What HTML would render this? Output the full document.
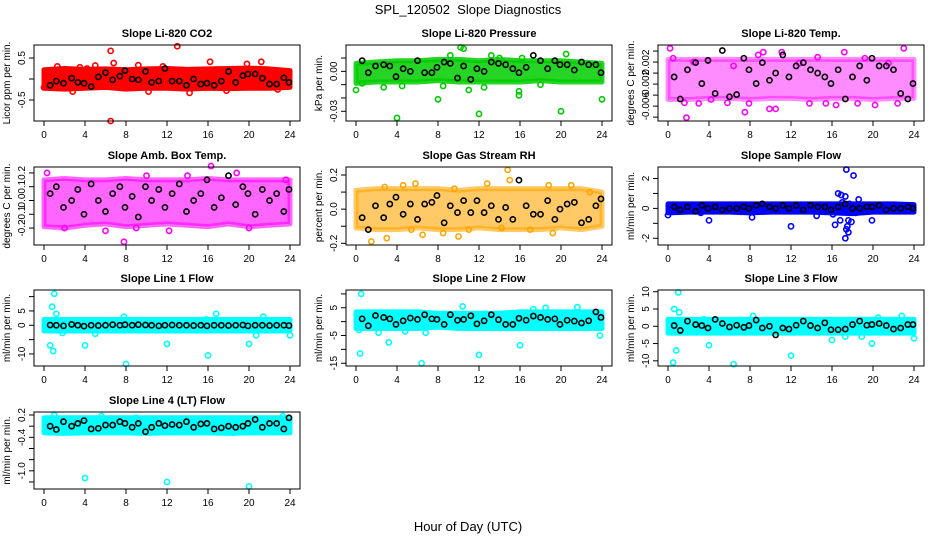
<!DOCTYPE html>
<html><head><meta charset="utf-8"><style>
body{margin:0;background:#fff}
svg{display:block;font-family:"Liberation Sans",sans-serif}
</style></head><body>
<svg id="c" width="936" height="540" viewBox="0 0 936 540">
<text x="468" y="14" text-anchor="middle" font-size="13">SPL_120502&#160; Slope Diagnostics</text>
<text x="468" y="531" text-anchor="middle" font-size="13">Hour of Day (UTC)</text>
</svg>
<script>
const xTicks=[0,4,8,12,16,20,24];
const bandHours=[0,2,4,6,8,10,12,14,16,18,20,22,24];
const blackX=[0.6,1.2,1.9,2.7,3.3,3.9,4.6,5.3,6.0,6.7,7.4,7.9,8.6,9.2,9.9,10.5,11.2,11.8,12.5,13.2,13.9,14.6,15.3,15.9,16.6,17.3,18.0,18.7,19.4,19.9,20.6,21.3,22.0,22.7,23.4,23.9];
const panelTitles=["Slope Li-820 CO2","Slope Li-820 Pressure","Slope Li-820 Temp.","Slope Amb. Box Temp.","Slope Gas Stream RH","Slope Sample Flow","Slope Line 1 Flow","Slope Line 2 Flow","Slope Line 3 Flow","Slope Line 4 (LT) Flow"];
const yTitles=["Licor ppm per min.","kPa per min.","degrees C per min.","degrees C per min.","percent per min.","ml/min per min.","ml/min per min.","ml/min per min.","ml/min per min.","ml/min per min."];
const yLims=[[-1.0,0.81],[-0.0373,0.0198],[-0.0087,0.0051],[-0.323,0.243],[-0.21,0.247],[-2.45,2.77],[-14.2,12.3],[-16,11.4],[-11.5,10.5],[-1.126,0.254]];
const yTickVals=[[0.5,0,-0.5],[0.01,0,-0.01,-0.02,-0.03],[0.004,0.002,0,-0.002,-0.004,-0.006,-0.008],[0.2,0.1,0,-0.1,-0.2],[0.2,0.1,0,-0.1,-0.2],[2,1,0,-1,-2],[10,5,0,-5,-10],[10,5,0,-5,-10,-15],[10,5,0,-5,-10],[0.2,0,-0.2,-0.4,-0.6,-0.8,-1.0]];
const yTickLabels=[["0.5","","-0.5"],["","0.00","","","-0.03"],["","0.002","","-0.002","","-0.006",""],["0.2","0.1","0.0","-0.1","-0.2"],["0.2","","0.0","","-0.2"],["2","","0","","-2"],["","5","0","","-10"],["","5","","-5","","-15"],["10","5","0","-5","-10"],["0.2","","-0.4","","","-1.0",""]];
const colors=["#ff0000","#00cc00","#ff00ff","#ff00ff","#ffa500","#0000ff","#00ffff","#00ffff","#00ffff","#00ffff"];
const bandOpacity=[1,0.85,0.45,0.6,0.6,1,1,1,1,1];
const bandLo=[
[-0.22,-0.24,-0.22,-0.2,-0.24,-0.22,-0.22,-0.24,-0.22,-0.23,-0.22,-0.22,-0.2],
[-0.009,-0.008,-0.008,-0.008,-0.007,-0.008,-0.008,-0.008,-0.008,-0.007,-0.008,-0.008,-0.008],
[-0.0048,-0.0048,-0.0046,-0.0046,-0.0048,-0.0046,-0.0046,-0.0048,-0.0046,-0.0046,-0.0048,-0.0046,-0.0046],
[-0.19,-0.2,-0.18,-0.17,-0.19,-0.18,-0.17,-0.18,-0.19,-0.17,-0.19,-0.18,-0.17],
[-0.11,-0.12,-0.12,-0.11,-0.12,-0.12,-0.11,-0.12,-0.12,-0.12,-0.11,-0.12,-0.1],
[-0.3,-0.25,-0.25,-0.25,-0.3,-0.25,-0.25,-0.25,-0.3,-0.35,-0.25,-0.25,-0.25],
[-2,-2,-2,-2,-2,-2,-2,-2,-2,-2,-2,-2,-2],
[-2.5,-2.5,-2.5,-2.5,-2,-2.5,-2.5,-2.5,-2.5,-2.5,-2.5,-2.5,-2.5],
[-2,-2,-2,-2,-2,-2,-2,-2,-2,-2,-2,-2,-2],
[-0.12,-0.13,-0.12,-0.12,-0.12,-0.13,-0.12,-0.12,-0.12,-0.13,-0.12,-0.12,-0.12]];
const bandHi=[
[0.22,0.25,0.23,0.24,0.22,0.24,0.25,0.23,0.24,0.25,0.26,0.24,0.2],
[0.006,0.007,0.008,0.008,0.009,0.009,0.008,0.009,0.008,0.008,0.008,0.007,0.006],
[0.0025,0.0025,0.0025,0.0025,0.0025,0.0025,0.0025,0.0025,0.0025,0.0025,0.0025,0.0025,0.0025],
[0.15,0.16,0.15,0.15,0.16,0.15,0.15,0.15,0.16,0.15,0.15,0.15,0.15],
[0.11,0.12,0.12,0.12,0.12,0.11,0.12,0.12,0.12,0.12,0.12,0.12,0.1],
[0.3,0.3,0.3,0.3,0.3,0.3,0.3,0.3,0.3,0.3,0.3,0.3,0.25],
[2,2,2,2,2,2,2,2,2,2,2,2,2],
[3.5,3.5,3.5,3.5,3,3,3,3,3.5,3.5,3.5,3.5,3.5],
[2,2,2,2,2,2,2,2,2,2,2,2,2],
[0.15,0.15,0.15,0.15,0.15,0.15,0.15,0.15,0.15,0.15,0.15,0.15,0.15]];
const blackY=[
[-0.15,-0.05,-0.1,0.02,-0.08,-0.1,-0.18,0.05,0.15,-0.02,0.07,0.2,0,-0.02,0.18,-0.08,-0.05,0.25,-0.05,-0.05,-0.15,0,-0.12,-0.1,-0.15,-0.05,0.18,-0.08,0.08,0.12,0.12,0.02,-0.12,-0.12,0.03,-0.08],
[0.008,-0.001,0.004,0.005,0.004,-0.004,0.002,0.0,0.008,-0.001,-0.001,0.003,0.007,0.006,-0.005,0.004,-0.006,0.002,0.0,0.007,0.006,0.005,0.002,-0.001,0.003,0.012,0.008,0.002,0.008,0.005,0.005,0.001,0.007,0.005,0.005,-0.001],
[-0.0007,-0.0047,0.0006,0.0019,-0.0019,0.0023,-0.0037,0.0041,-0.0043,-0.0039,0.0027,0.0006,-0.0019,0.0019,-0.0013,0.0000,0.0033,-0.0007,0.0013,0.0019,0.0006,0.0000,-0.0007,-0.0019,0.0006,-0.0047,-0.0007,0.0013,-0.0013,0.0027,0.0013,0.0013,0.0006,-0.0037,-0.0047,-0.0019],
[0.05,0.1,-0.05,0.0,0.08,-0.1,0.12,0.0,-0.08,0.05,0.1,-0.05,0.03,-0.12,0.1,0.0,0.08,-0.05,0.05,0.12,-0.08,0.0,0.05,0.15,-0.05,0.02,0.18,-0.03,0.1,0.05,-0.1,0.08,0.0,0.05,-0.08,0.08],
[-0.05,-0.12,0.02,-0.05,0.03,0.07,-0.03,0.03,-0.06,0.03,0.04,0.08,-0.08,0.02,-0.02,0.05,-0.02,0.05,-0.02,0.02,-0.06,0.01,-0.06,0.17,0.02,-0.03,-0.03,0.05,-0.06,0.0,0.03,0.04,-0.08,-0.06,0.02,0.06],
[0.1,-0.1,0.1,-0.2,0.2,0.0,0.1,-0.1,0.0,0.0,0.1,0.0,0.2,0.3,0.1,0.0,0.2,0.0,0.2,-0.1,0.2,0.1,0.1,-0.1,0.1,0.3,0.0,0.0,0.1,0.1,0.2,-0.1,0.0,0.0,0.1,0.0],
[0.1,0,-0.2,0.3,0,-0.3,0,-0.1,0,0.2,0,0.2,0,0.2,0.1,0,-0.2,0,0.1,0,0,-0.1,0,-0.2,0,0,-0.1,0,0.1,-0.2,0,0,-0.1,0,0,-0.1],
[1,-1.5,2.2,1.5,1,-1,0.3,1.3,0.8,2.5,1,0.8,-1,2.5,0.5,0.8,2.1,-0.8,0.3,2.5,0.7,-1,-1,1.2,0.5,2,1.5,0.8,1,-1,0.5,0.2,-0.5,0.3,3.5,1.5],
[0.2,-1.2,1.5,0.5,0.2,-0.5,2,0.8,-0.2,0.3,-0.3,0.2,1.8,-0.5,0,-2.5,-0.5,-0.8,0.3,1.5,0.2,-0.5,1,-1,-1,-0.8,0.5,1.5,0.3,0.5,0.8,0.2,-0.8,-0.5,0.5,0.5],
[0,-0.06,0.08,0,0.05,0.1,-0.05,-0.04,0.02,0.02,0.08,0.05,-0.02,0.05,-0.1,-0.02,0.05,0.01,0.03,0.02,0.08,-0.02,0.04,0.05,-0.05,-0.03,0.0,-0.02,0.0,0.05,0.12,-0.02,0.05,0.05,-0.05,0.15]];
const outliers=[
[[6.5,0.67],[13,0.78],[6.5,-1.0],[6.8,0.38],[0,-0.2],[1.3,0.3],[5.0,0.32],[2.8,-0.3],[9.2,0.33],[10.2,-0.3],[14.2,-0.33],[16.2,0.41],[19.8,0.36],[21.2,0.41],[17.8,-0.28],[4.2,0.25],[22.8,-0.25],[3.5,0.28],[11.6,0.3]],
[[4,-0.035],[12,-0.032],[20,-0.030],[8,-0.021],[24,-0.021],[0,-0.014],[15.9,-0.018],[2.7,-0.012],[10.5,0.017],[10.2,0.018],[9.2,0.012],[13.2,0.012],[20.5,0.013],[11,-0.014],[18,-0.010],[8.5,-0.011],[14,0.01],[4.5,-0.011],[16.2,0.01],[0.6,-0.009],[15.9,-0.015],[12.5,-0.012]],
[[0.2,0.0045],[1.8,-0.0081],[23,0.0045],[7.5,-0.0071],[10.5,-0.0065],[9.9,-0.0065],[0.5,0.0027],[11.1,0.0038],[13.8,-0.0055],[15.4,-0.0055],[17.2,0.0038],[19.2,0.0027],[1.6,-0.0054],[8.8,0.0033],[21.5,0.0018],[5.8,-0.0054],[2.5,0.002],[6.4,0.0013],[12.8,0.0018],[18.5,-0.0055],[3.0,-0.0055],[4.2,-0.0048],[7.9,-0.0055],[14.6,0.0029],[20.2,-0.0058],[22.4,-0.0055],[9.3,0.0038],[16.4,-0.0058]],
[[7.8,-0.3],[16.3,0.25],[12.2,-0.22],[0.3,0.2],[18.8,0.2],[2,-0.2],[23.6,0.15],[20,-0.2],[6,-0.22],[10,0.18],[14,0.18],[9,-0.2]],
[[1.5,-0.19],[3,-0.17],[14.8,0.23],[15,0.17],[10,-0.16],[14.2,-0.11],[6.5,-0.15],[4.6,0.14],[5.8,0.15],[12.8,0.15],[18.8,0.14],[21,0.14],[19.2,-0.14],[8.5,-0.14],[11,-0.12],[22.8,0.1],[2.8,0.13],[9.6,0.12],[5.4,-0.12],[17,-0.12]],
[[17.4,2.6],[18.1,2.2],[16.6,1.0],[16.9,0.9],[17.3,0.8],[18.6,0.6],[16.3,-1.1],[16.8,-0.8],[17.4,-1.4],[17.5,-1.2],[17.3,-2.0],[17.6,-1.6],[17.9,-0.9],[17.6,-0.8],[4,-0.8],[12,-1.2],[19.9,-0.8],[8.2,-0.6],[0,-0.45],[14.5,-0.5],[3.2,-0.3],[17.7,0.3],[16.1,-0.4],[18.3,-0.3],[17.0,0.4]],
[[1.0,11],[0.8,6.5],[1.2,4],[0.6,-7],[0.9,-9],[4,-7],[8,-13.5],[12,-6.5],[16,-10.5],[20,-6.5],[24,-3.5],[16.8,4],[5,-3],[7.8,3],[20.7,-3.5],[21.4,3],[23.5,1.5],[1.8,-2.7],[15.8,2]],
[[0.5,10],[0.4,-11.5],[3.2,-7.5],[6.4,-15],[10.4,5.5],[12,-12],[16,-8.5],[23.8,-5],[18.5,5],[0.3,-3],[2.2,-4],[6.8,-4],[21.6,5.2],[4.8,-3.5],[17.3,4.5]],
[[1.0,9.8],[0.6,5],[1.1,4],[0.5,-10.5],[0.8,-7],[4,-5.5],[6.4,-11],[12,-8.5],[16,-4],[19.9,-5],[24,-3.5],[3.5,2],[20.5,2.5],[8.3,3],[22.8,3],[17.3,-3],[18.9,-3]],
[[4,-0.93],[12,-1.0],[20,-1.08],[1,0.2],[5.6,0.18],[0.6,-0.1],[18.5,-0.12],[23.3,0.18],[9,0.15]]];

const NS="http://www.w3.org/2000/svg";
const svg=document.getElementById('c');
const colL=[34,346,658], W=266;
const rowT=[45,167,290,412], rowB=[121,245,366,489];
function mk(tag,attrs,parent){const e=document.createElementNS(NS,tag);for(const k in attrs)e.setAttribute(k,attrs[k]);parent.appendChild(e);return e;}
for(let p=0;p<10;p++){
  const L=colL[p%3], T=rowT[Math.floor(p/3)], B=rowB[Math.floor(p/3)], R=L+W;
  const g=mk('g',{},svg);
  
  
  const xs=h=>L+10+h/24*(W-20);
  const [y0,y1]=yLims[p];
  const ys=v=>B-(v-y0)/(y1-y0)*(B-T);
  let pts=bandHours.map((h,i)=>xs(h)+','+ys(bandHi[p][i]));
  pts=pts.concat(bandHours.slice().reverse().map((h,i)=>xs(h)+','+ys(bandLo[p][bandHours.length-1-i])));
  const band=mk('polygon',{points:pts.join(' '),fill:colors[p],stroke:colors[p],'stroke-width':5,'stroke-linejoin':'round','fill-opacity':bandOpacity[p],'stroke-opacity':bandOpacity[p]},g);
  
  
  outliers[p].forEach(o=>{
    const c=mk('circle',{cx:xs(o[0]),cy:ys(o[1]),r:2.6,fill:'none',stroke:colors[p],'stroke-width':1.6},g);
    
    
  });
  blackX.forEach((h,i)=>{
    const c=mk('circle',{cx:xs(h),cy:ys(blackY[p][i]),r:2.6,fill:'none',stroke:'#000','stroke-width':1.6},g);
    
    
  });
  const box=mk('rect',{x:L,y:T,width:W,height:B-T,fill:'none',stroke:'#000','stroke-width':1},g);
  
  
  const t=mk('text',{x:L+W/2,y:T-8,'text-anchor':'middle','font-size':11,'font-weight':'bold'},g);
  t.textContent=panelTitles[p];
  
  
  xTicks.forEach(h=>{
    mk('line',{x1:xs(h),x2:xs(h),y1:B,y2:B+5,stroke:'#000'},g);
    const tl=mk('text',{x:xs(h),y:B+17,'text-anchor':'middle','font-size':10},g);
    tl.textContent=h;
    
    
  });
  yTickVals[p].forEach((v,i)=>{
    const y=ys(v);
    mk('line',{x1:L-5,x2:L,y1:y,y2:y,stroke:'#000'},g);
    const lab=yTickLabels[p][i];
    if(lab){
      const tl=mk('text',{x:0,y:0,'text-anchor':'middle','font-size':10,transform:`translate(${L-9},${y}) rotate(-90)`},g);
      tl.textContent=lab;
      
      
    }
  });
  const yt=mk('text',{x:0,y:0,'text-anchor':'middle','font-size':10,transform:`translate(${L-24},${(T+B)/2}) rotate(-90)`},g);
  yt.textContent=yTitles[p];
  
  
}
</script>
</body></html>
